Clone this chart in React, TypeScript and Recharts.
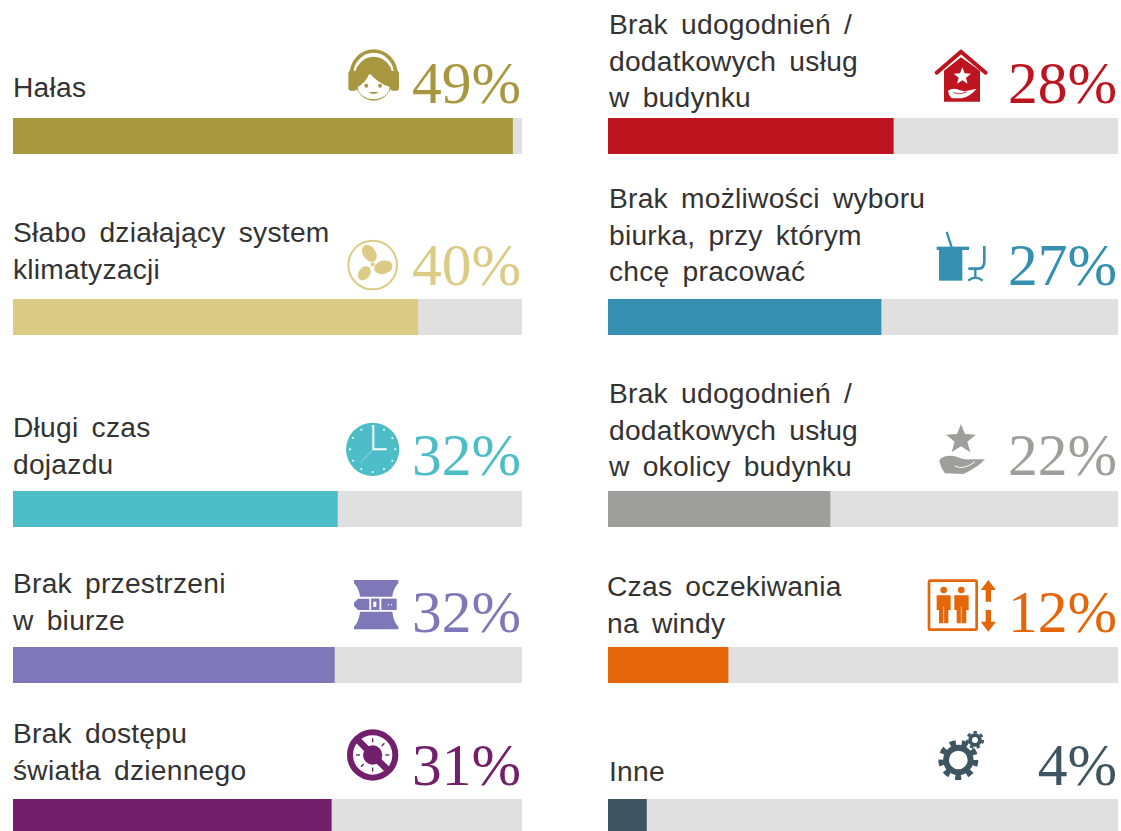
import { BarChart, Bar, XAxis, YAxis } from 'recharts'

const labels: string[][] = [
  ['Hałas'],
  ['Słabo działający system', 'klimatyzacji'],
  ['Długi czas', 'dojazdu'],
  ['Brak przestrzeni', 'w biurze'],
  ['Brak dostępu', 'światła dziennego'],
  ['Brak udogodnień /', 'dodatkowych usług', 'w budynku'],
  ['Brak możliwości wyboru', 'biurka, przy którym', 'chcę pracować'],
  ['Brak udogodnień /', 'dodatkowych usług', 'w okolicy budynku'],
  ['Czas oczekiwania', 'na windy'],
  ['Inne'],
]
const values = [49.1, 39.8, 31.9, 31.6, 31.3, 28, 26.8, 21.8, 11.8, 3.8]
const colors = ['#a99740', '#dccb85', '#4dbdc8', '#7e78b8', '#72206b', '#be1420', '#348fb0', '#9e9e9c', '#e56609', '#3e5561']

// layout of each block: bar left/top/width, first text line centre, baseline of the percent
const barLeft = [13, 13, 13, 13, 13, 608, 608, 608, 608, 608]
const barTop = [118, 299, 491, 647, 799, 118, 299, 491, 647, 799]
const barWidth = [509, 509, 509, 509, 509, 510, 510, 510, 510, 510]
const textLeft = [13, 13, 13, 13, 13, 609, 609, 609, 607, 609]
const firstLine = [87, 232, 427, 583, 733, 24, 198, 393, 586, 771]
const lineGap = 36.5
const percentBase = [103, 285, 475, 632, 785, 103, 285, 475, 632, 785]
const MAX = 50

const sans = '"Liberation Sans", Arial, sans-serif'
const serif = '"Liberation Serif", "Times New Roman", serif'

function Block({ i }: { i: number }) {
  const right = barLeft[i] + barWidth[i]
  return (
    <>
      <div style={{ position: 'absolute', left: barLeft[i], top: barTop[i] }}>
        <BarChart
          layout="vertical"
          width={barWidth[i]}
          height={36}
          data={[{ name: labels[i][0], value: values[i] }]}
          margin={{ top: 0, right: 0, bottom: 0, left: 0 }}
          barCategoryGap={0}
        >
          <XAxis type="number" domain={[0, MAX]} hide />
          <YAxis type="category" dataKey="name" hide />
          <Bar dataKey="value" fill={colors[i]} background={{ fill: '#e0e0e0' }} isAnimationActive={false} />
        </BarChart>
      </div>
      {labels[i].map((line, k) => (
        <div
          key={k}
          style={{
            position: 'absolute',
            left: textLeft[i],
            top: firstLine[i] + k * lineGap - 18,
            height: 36,
            lineHeight: '36px',
            whiteSpace: 'pre',
            fontFamily: sans,
            fontSize: 28.2,
            letterSpacing: 0.25,
            wordSpacing: 5,
            color: '#333333',
          }}
        >
          {line}
        </div>
      ))}
      <div
        style={{
          position: 'absolute',
          right: 1121 - right + 1,
          top: percentBase[i] - 64,
          height: 88,
          lineHeight: '88px',
          whiteSpace: 'pre',
          fontFamily: serif,
          fontSize: 59.5,
          color: colors[i],
        }}
      >
        {Math.round(values[i])}%
      </div>
    </>
  )
}

function Gear({ cx, cy, r, hole, color, teeth }: { cx: number; cy: number; r: number; hole: number; color: string; teeth: number }) {
  const toothR = r * 0.86
  const dash = (2 * Math.PI * toothR) / teeth / 2
  return (
    <g fill="none" stroke={color}>
      <circle cx={cx} cy={cy} r={toothR} strokeWidth={r * 0.28} strokeDasharray={`${dash} ${dash}`} />
      <circle cx={cx} cy={cy} r={(r * 0.76 + hole) / 2} strokeWidth={r * 0.76 - hole} />
    </g>
  )
}

// icons are drawn in the 3x coordinates of a 200px wide crop
function Icons() {
  const ticks = [0, 30, 60, 90, 120, 150, 180, 210, 240, 270, 300, 330]
  const rays = [0, 45, 90, 180, 225, 270]
  const rad = (a: number) => (a * Math.PI) / 180
  return (
    <svg width={1121} height={831} style={{ position: 'absolute', left: 0, top: 0 }}>
      <g transform="translate(330 30) scale(0.3333)">
        {/* headset */}
        <path d="M64 135 A67 72 0 0 1 198 135" fill="none" stroke={colors[0]} strokeWidth={11} />
        <rect x={55} y={122} width={26} height={60} rx={8} fill={colors[0]} />
        <rect x={181} y={122} width={26} height={60} rx={8} fill={colors[0]} />
        <ellipse cx={131} cy={146} rx={58} ry={66} fill={colors[0]} />
        <ellipse cx={131} cy={170} rx={48} ry={38} fill="#fff" />
        <path d="M80 172 Q110 158 118 128 Q140 158 182 172 L182 110 L80 110 Z" fill={colors[0]} />
        <circle cx={109} cy={167} r={6} fill={colors[0]} />
        <circle cx={150} cy={167} r={6} fill={colors[0]} />
        <path d="M116 186 Q131 198 146 186 Z" fill={colors[0]} />
        {/* fan */}
        <circle cx={128} cy={705} r={73} fill="none" stroke={colors[1]} strokeWidth={6} />
        <ellipse cx={118} cy={670} rx={19} ry={28} transform="rotate(-35 118 670)" fill={colors[1]} />
        <ellipse cx={160} cy={712} rx={28} ry={20} transform="rotate(-15 160 712)" fill={colors[1]} />
        <ellipse cx={103} cy={730} rx={17} ry={23} transform="rotate(35 103 730)" fill={colors[1]} />
        <circle cx={128} cy={703} r={6} fill={colors[1]} />
      </g>
      <g transform="translate(330 410) scale(0.3333)">
        {/* clock */}
        <circle cx={128} cy={118} r={80} fill={colors[2]} />
        {ticks.map((a) => (
          <circle key={a} cx={128 + 68 * Math.sin(rad(a))} cy={118 - 68 * Math.cos(rad(a))} r={3} fill="#fff" />
        ))}
        <path d="M130 45 V118 H170" fill="none" stroke="#fff" strokeWidth={6} />
        <path d="M128 120 L92 158" stroke="#fff" strokeWidth={2} opacity={0.6} />
        {/* belt */}
        <path d="M72 510 H205 V520 Q190 535 187 560 H90 Q87 535 72 520 Z" fill={colors[3]} />
        <path d="M90 605 H187 Q190 635 205 650 V658 H72 V650 Q87 635 90 605 Z" fill={colors[3]} />
        <path d="M84 566 H118 V600 H84 L72 588 V578 Z" fill={colors[3]} />
        <rect x={122} y={564} width={28} height={38} fill={colors[3]} stroke="#fff" strokeWidth={3} />
        <rect x={130} y={575} width={9} height={16} fill="#fff" />
        <rect x={154} y={566} width={46} height={34} fill={colors[3]} />
        <circle cx={175} cy={584} r={2.2} fill="#fff" />
        <circle cx={185} cy={584} r={2.2} fill="#fff" />
        {/* no daylight */}
        <circle cx={128} cy={1035} r={68} fill="none" stroke={colors[4]} strokeWidth={18} />
        <path d="M80 987 L176 1083" stroke={colors[4]} strokeWidth={20} />
        <circle cx={128} cy={1035} r={29} fill={colors[4]} />
        {rays.map((a) => (
          <line
            key={a}
            x1={128 + 38 * Math.sin(rad(a))}
            y1={1035 - 38 * Math.cos(rad(a))}
            x2={128 + 50 * Math.sin(rad(a))}
            y2={1035 - 50 * Math.cos(rad(a))}
            stroke={colors[4]}
            strokeWidth={4}
          />
        ))}
      </g>
      <g transform="translate(920 30) scale(0.3333)">
        {/* house */}
        <path d="M50 128 L123 65 L197 128" fill="none" stroke={colors[5]} strokeWidth={12} strokeLinecap="round" strokeLinejoin="round" />
        <path d="M72 122 L123 82 L180 122 V215 H72 Z" fill={colors[5]} />
        <path d="M127 112 L134 130 L153 131 L138 143 L143 161 L127 151 L111 161 L116 143 L101 131 L120 130 Z" fill="#fff" />
        <path d="M84 182 Q100 172 118 180 L134 184 L170 176 Q150 200 125 205 H95 Q85 195 84 182 Z" fill="#fff" />
        <path d="M100 188 Q120 196 140 186" fill="none" stroke={colors[5]} strokeWidth={2.5} />
        {/* desk and chair */}
        <path d="M80 606 L95 652" stroke={colors[6]} strokeWidth={7} />
        <rect x={50} y={650} width={97} height={10} fill={colors[6]} />
        <rect x={57} y={655} width={70} height={97} fill={colors[6]} />
        <path d="M193 648 V695 Q192 715 178 716 H145" fill="none" stroke={colors[6]} strokeWidth={8} />
        <path d="M166 716 V742 M145 752 Q166 734 188 752" fill="none" stroke={colors[6]} strokeWidth={7} />
      </g>
      <g transform="translate(920 410) scale(0.3333)">
        {/* star on a hand */}
        <path d="M123 42 L135 72 L168 74 L142 95 L151 127 L123 109 L95 127 L104 95 L78 74 L111 72 Z" fill={colors[7]} />
        <path d="M58 150 Q75 132 110 140 Q130 150 150 148 L195 148 Q170 175 130 192 L75 190 Q60 170 58 150 Z" fill={colors[7]} />
        <path d="M105 168 Q130 182 165 155" fill="none" stroke="#fff" strokeWidth={3} />
        {/* lift */}
        <rect x={27} y={512} width={143} height={147} rx={3} fill="none" stroke={colors[8]} strokeWidth={8} />
        <circle cx={71} cy={540} r={10} fill={colors[8]} />
        <circle cx={124} cy={540} r={10} fill={colors[8]} />
        <path d="M50 556 H92 V600 H85 V640 H57 V600 H50 Z" fill={colors[8]} />
        <path d="M103 556 H146 V600 H139 V640 H110 V600 H103 Z" fill={colors[8]} />
        <path d="M71 590 V640 M124 590 V640" stroke="#fff" strokeWidth={2} />
        <path d="M205 510 L228 540 H213 V575 H197 V540 H182 Z" fill={colors[8]} />
        <path d="M205 665 L228 635 H213 V600 H197 V635 H182 Z" fill={colors[8]} />
        {/* gears */}
        <Gear cx={115} cy={1050} r={60} hole={28} color={colors[9]} teeth={9} />
        <Gear cx={165} cy={990} r={27} hole={9} color={colors[9]} teeth={7} />
      </g>
    </svg>
  )
}

export default function App() {
  return (
    <div style={{ position: 'absolute', left: 0, top: 0, width: 1121, height: 831, overflow: 'hidden', background: '#fff' }}>
      {values.map((_, i) => (
        <Block key={i} i={i} />
      ))}
      <Icons />
    </div>
  )
}
